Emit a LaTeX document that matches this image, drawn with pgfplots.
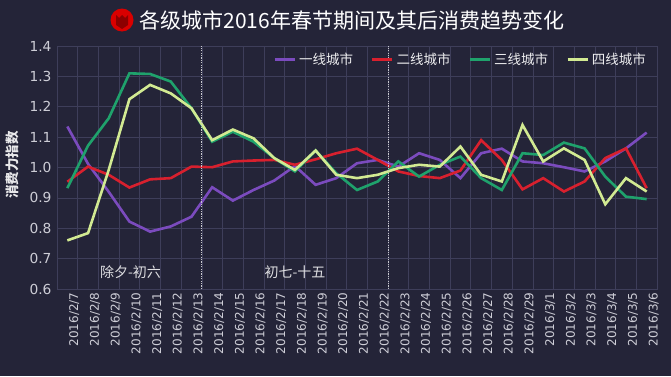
\documentclass[border=0pt]{standalone}
\usepackage{pgfplots}
\pgfplotsset{compat=1.18}
\usepackage{fontspec}
\setmainfont{Liberation Sans}
\newfontfamily\cjk{Noto Sans CJK SC}
\newfontfamily\tickfont{DejaVu Sans}
\definecolor{bg}{HTML}{242438}
\definecolor{gridc}{HTML}{3E3E5A}
\definecolor{ticktext}{HTML}{CDCDD6}
\definecolor{cpurple}{HTML}{7B4BBE}
\definecolor{cred}{HTML}{D8202E}
\definecolor{cgreen}{HTML}{1FA26C}
\definecolor{cyellow}{HTML}{D2EA92}
\begin{document}
\begin{tikzpicture}[x=1pt,y=1pt]
\fill[bg] (0,0) rectangle (671,376);
\begin{axis}[
  at={(57pt,87pt)}, anchor=south west, scale only axis,
  width=600pt, height=243pt,
  xmin=-0.5, xmax=28.5, ymin=0.6, ymax=1.4,
  xtick={0,...,28},
  xticklabels={2016/2/7,2016/2/8,2016/2/9,2016/2/10,2016/2/11,2016/2/12,2016/2/13,2016/2/14,2016/2/15,2016/2/16,2016/2/17,2016/2/18,2016/2/19,2016/2/20,2016/2/21,2016/2/22,2016/2/23,2016/2/24,2016/2/25,2016/2/26,2016/2/27,2016/2/28,2016/2/29,2016/3/1,2016/3/2,2016/3/3,2016/3/4,2016/3/5,2016/3/6},
  minor xtick={0.5,1.5,...,27.5},
  xminorgrids, ymajorgrids,
  ytick={0.6,0.7,0.8,0.9,1.0,1.1,1.2,1.3,1.4},
  grid style={draw=gridc, line width=0.6pt},
  minor grid style={draw=gridc, line width=0.6pt},
  axis line style={draw=gridc, line width=0.6pt},
  tick style={draw=none},
  major tick length=0pt, minor tick length=0pt,
  /pgf/number format/assume math mode=true,
  yticklabel style={/pgf/number format/.cd, fixed, fixed zerofill, precision=1, /tikz/.cd, font=\tickfont\fontsize{13.8}{13.8}\selectfont, text=ticktext, xshift=-2pt},
  xticklabel style={rotate=90, anchor=east, font=\tickfont\fontsize{12}{12}\selectfont, text=ticktext, yshift=-7pt},
  legend style={at={(1,1)}, anchor=north east, xshift=-6pt, yshift=-3pt, draw=none, fill=none, text=white!92!bg, font=\cjk\fontsize{13.5}{13.5}\selectfont, legend columns=4, /tikz/every even column/.append style={column sep=16pt}, /tikz/every odd column/.append style={column sep=1pt}},
  legend image code/.code={\draw[#1, line width=2.6pt] (0pt,0pt) -- (20pt,0pt);},
  clip=false,
]
\addplot[cpurple, line width=2.6pt] coordinates {
(0,1.135) (1,1.012) (2,0.920) (3,0.822) (4,0.789) (5,0.806) (6,0.838) (7,0.935)
(8,0.891) (9,0.926) (10,0.957) (11,1.005) (12,0.943) (13,0.965) (14,1.014) (15,1.025)
(16,1.003) (17,1.047) (18,1.025) (19,0.965) (20,1.047) (21,1.062) (22,1.020) (23,1.014)
(24,1.001) (25,0.987) (26,1.020) (27,1.063) (28,1.115)};
\addlegendentry{一线城市}
\addplot[cred, line width=2.6pt] coordinates {
(0,0.953) (1,1.003) (2,0.976) (3,0.934) (4,0.961) (5,0.965) (6,1.003) (7,1.001)
(8,1.020) (9,1.023) (10,1.025) (11,1.009) (12,1.027) (13,1.047) (14,1.062) (15,1.025)
(16,0.987) (17,0.972) (18,0.965) (19,0.990) (20,1.090) (21,1.025) (22,0.928) (23,0.965)
(24,0.921) (25,0.954) (26,1.031) (27,1.063) (28,0.932)};
\addlegendentry{二线城市}
\addplot[cgreen, line width=2.6pt] coordinates {
(0,0.932) (1,1.072) (2,1.162) (3,1.310) (4,1.308) (5,1.283) (6,1.195) (7,1.085)
(8,1.118) (9,1.085) (10,1.031) (11,0.987) (12,1.056) (13,0.981) (14,0.926) (15,0.954)
(16,1.020) (17,0.970) (18,1.009) (19,1.036) (20,0.965) (21,0.926) (22,1.047) (23,1.041)
(24,1.082) (25,1.063) (26,0.970) (27,0.904) (28,0.896)};
\addlegendentry{三线城市}
\addplot[cyellow, line width=2.6pt] coordinates {
(0,0.760) (1,0.784) (2,0.992) (3,1.225) (4,1.272) (5,1.244) (6,1.195) (7,1.090)
(8,1.125) (9,1.096) (10,1.031) (11,0.992) (12,1.056) (13,0.976) (14,0.965) (15,0.976)
(16,0.998) (17,1.009) (18,1.003) (19,1.069) (20,0.976) (21,0.954) (22,1.140) (23,1.020)
(24,1.063) (25,1.025) (26,0.879) (27,0.965) (28,0.921)};
\addlegendentry{四线城市}
\draw[white!75!bg, dash pattern=on 1.2pt off 1.2pt, line width=0.7pt] (axis cs:6.5,0.6) -- (axis cs:6.5,1.4);
\draw[white!75!bg, dash pattern=on 1.2pt off 1.2pt, line width=0.7pt] (axis cs:15.5,0.6) -- (axis cs:15.5,1.4);
\node[text=white!85!bg, font=\cjk\fontsize{14}{14}\selectfont] at (axis cs:3.05,0.655) {除夕-初六};
\node[text=white!85!bg, font=\cjk\fontsize{14}{14}\selectfont] at (axis cs:11,0.655) {初七-十五};
\end{axis}
\fill[red!85!black] (122,356) circle (11.5);
\fill[red!55!black] (116,351) -- (116,361) -- (119,358) -- (122,361) -- (125,358) -- (128,361) -- (128,351) -- (122,347) -- cycle;
\node[anchor=west, text=white, font=\cjk\fontsize{21}{21}\selectfont] at (136,356) {各级城市2016年春节期间及其后消费趋势变化};
\node[rotate=90, text=white!90!bg, font=\cjk\bfseries\fontsize{13.5}{13.5}\selectfont] at (12,211) {消费力指数};
\end{tikzpicture}
\end{document}
